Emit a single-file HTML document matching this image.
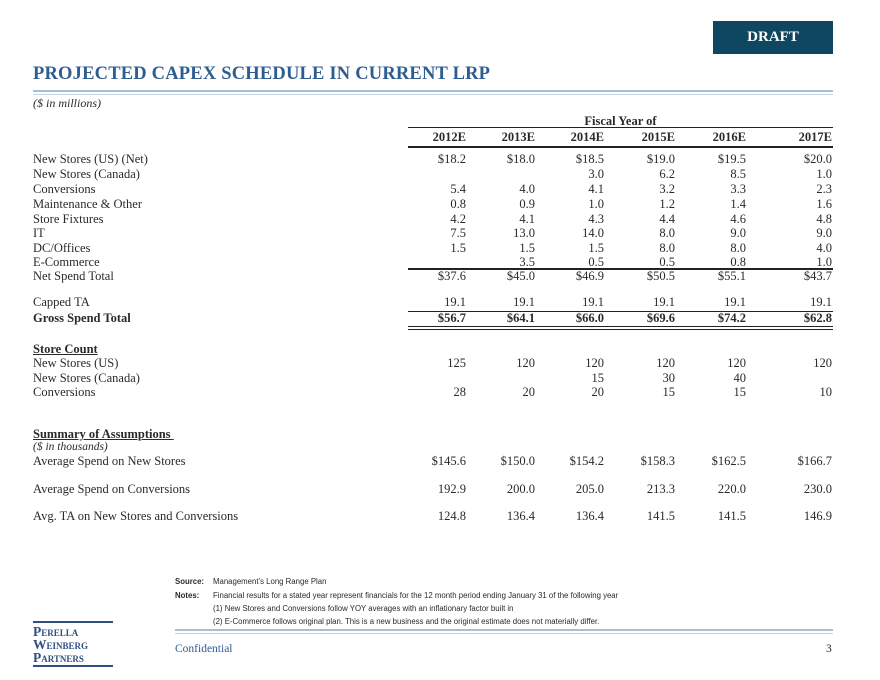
<!DOCTYPE html>
<html><head><meta charset="utf-8">
<style>
body{margin:0;width:880px;height:680px;background:#fff;position:relative;overflow:hidden;font-family:"Liberation Serif",serif;color:#2a2a2a}
.a{position:absolute;white-space:nowrap}
.t{font-size:12.5px;line-height:14px}
.r{text-align:right}
.ln{position:absolute;background:#222}
.fn{font-family:"Liberation Sans",sans-serif;font-size:7.8px}
</style></head><body>
<div class="a" style="left:713px;top:21px;width:120px;height:33px;background:#0f4660;color:#fff;font-weight:bold;font-size:15px;line-height:33px;text-align:center">DRAFT</div>
<div class="a" style="left:33px;top:64px;font-size:18.5px;font-weight:bold;color:#2e5d91;letter-spacing:0.2px">PROJECTED CAPEX SCHEDULE IN CURRENT LRP</div>
<div class="ln" style="left:33px;top:90px;width:800px;height:2px;background:#a9bfd8"></div>
<div class="ln" style="left:33px;top:94px;width:800px;height:1px;background:#c5d4e5"></div>
<div class="a t" style="left:33px;top:96px;font-style:italic;font-size:12px">($ in millions)</div>
<div class="a t" style="left:408px;width:425px;top:114px;text-align:center;font-weight:bold">Fiscal Year of</div>
<div class="ln" style="left:408px;top:127px;width:425px;height:1px"></div>
<div class="ln" style="left:408px;top:146px;width:425px;height:2px"></div>
<div id="tbl"></div>
<div class="a fn" style="left:175px;top:577px;font-weight:bold">Source:</div>
<div class="a fn" style="left:213px;top:577px">Management’s Long Range Plan</div>
<div class="a fn" style="left:175px;top:591px;font-weight:bold">Notes:</div>
<div class="a fn" style="left:213px;top:591px">Financial results for a stated year represent financials for the 12 month period ending January 31 of the following year</div>
<div class="a fn" style="left:213px;top:604px">(1) New Stores and Conversions follow YOY averages with an inflationary factor built in</div>
<div class="a fn" style="left:213px;top:617px">(2) E-Commerce follows original plan. This is a new business and the original estimate does not materially differ.</div>
<div class="ln" style="left:175px;top:629px;width:658px;height:2px;background:#a9bfd8"></div>
<div class="ln" style="left:175px;top:633px;width:658px;height:1px;background:#c5d4e5"></div>
<div class="a" style="left:175px;top:643px;font-size:11.5px;color:#2e5d91">Confidential</div>
<div class="a" style="left:826px;top:643px;font-size:11.5px">3</div>
<div class="a" style="left:33px;top:621px;width:80px;border-top:2px solid #2e4f80;border-bottom:2px solid #2e4f80;color:#2e4f80;font-weight:bold;font-size:13.5px;line-height:13px;padding:2px 0 1px;font-variant:small-caps">Perella<br>Weinberg<br>Partners</div>
<script>
const years=["2012E","2013E","2014E","2015E","2016E","2017E"];
const capexLabels=["New Stores (US) (Net)","New Stores (Canada)","Conversions","Maintenance & Other","Store Fixtures","IT","DC/Offices","E-Commerce","Net Spend Total","Capped TA","Gross Spend Total"];
const capexValues=[
["$18.2","$18.0","$18.5","$19.0","$19.5","$20.0"],
["","","3.0","6.2","8.5","1.0"],
["5.4","4.0","4.1","3.2","3.3","2.3"],
["0.8","0.9","1.0","1.2","1.4","1.6"],
["4.2","4.1","4.3","4.4","4.6","4.8"],
["7.5","13.0","14.0","8.0","9.0","9.0"],
["1.5","1.5","1.5","8.0","8.0","4.0"],
["","3.5","0.5","0.5","0.8","1.0"],
["$37.6","$45.0","$46.9","$50.5","$55.1","$43.7"],
["19.1","19.1","19.1","19.1","19.1","19.1"],
["$56.7","$64.1","$66.0","$69.6","$74.2","$62.8"]];
const storeLabels=["New Stores (US)","New Stores (Canada)","Conversions"];
const storeValues=[["125","120","120","120","120","120"],["","","15","30","40",""],["28","20","20","15","15","10"]];
const assumpLabels=["Average Spend on New Stores","Average Spend on Conversions","Avg. TA on New Stores and Conversions"];
const assumpValues=[["$145.6","$150.0","$154.2","$158.3","$162.5","$166.7"],["192.9","200.0","205.0","213.3","220.0","230.0"],["124.8","136.4","136.4","141.5","141.5","146.9"]];
const colRight=[466,535,604,675,746,832];
const T=document.getElementById('tbl');
function txt(s,x,y,name,opts){const d=document.createElement('div');d.className='a t';d.textContent=s;


if(opts&&opts.right){d.style.right=(880-x)+'px';}else d.style.left=x+'px';
d.style.top=(y-7)+'px';if(opts&&opts.bold)d.style.fontWeight='bold';if(opts&&opts.style)d.style.cssText+=opts.style;T.appendChild(d);}
function line(y,h,name){const d=document.createElement('div');d.className='ln';d.style.cssText+='left:408px;width:425px;top:'+y+'px;height:'+h+'px';


T.appendChild(d);}
years.forEach((y,i)=>txt(y,colRight[i],137,'year-header-'+y,{right:1,bold:1}));
const capY=[159,174,189,204,219,233,248,262,276,302,318];
capexLabels.forEach((l,r)=>{const b=r===10;txt(l,33,capY[r],'row-label-'+r,{bold:b});
capexValues[r].forEach((v,i)=>{if(v)txt(v,colRight[i],capY[r],'capex-cell-'+r+'-'+i,{right:1,bold:b});});});
line(268,2,'net-total-rule');line(311,1,'gross-total-rule');line(326,1,'gross-double-rule-1');line(329,1,'gross-double-rule-2');
txt('Store Count',33,349,'store-count-heading',{bold:1,style:'text-decoration:underline'});
const stY=[363,378,392];
storeLabels.forEach((l,r)=>{txt(l,33,stY[r],'store-label-'+r);storeValues[r].forEach((v,i)=>{if(v)txt(v,colRight[i],stY[r],'store-cell-'+r+'-'+i,{right:1});});});
txt('Summary of Assumptions\u00a0',33,434,'assumptions-heading',{bold:1,style:'text-decoration:underline'});
txt('($ in thousands)',33,447,'assumptions-units',{style:'font-style:italic;font-size:11.5px'});
const asY=[461,489,516];
assumpLabels.forEach((l,r)=>{txt(l,33,asY[r],'assump-label-'+r);assumpValues[r].forEach((v,i)=>txt(v,colRight[i],asY[r],'assump-cell-'+r+'-'+i,{right:1}));});
</script>
</body></html>
